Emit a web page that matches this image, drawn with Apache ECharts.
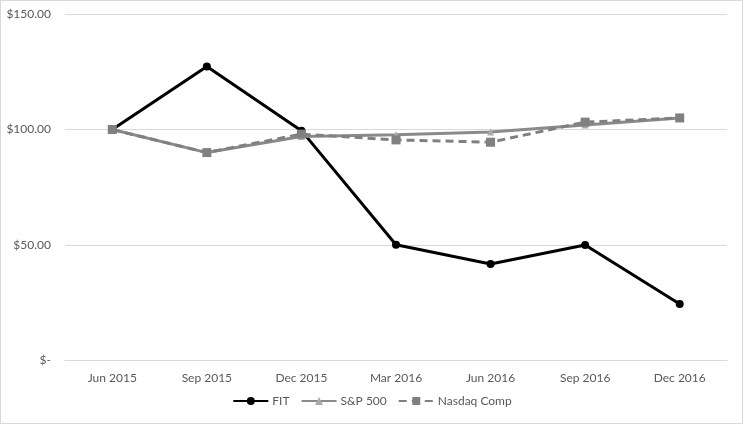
<!DOCTYPE html>
<html>
<head>
<meta charset="utf-8">
<script src="https://cdn.jsdelivr.net/npm/echarts@6/dist/echarts.min.js"></script>
<style>
html,body{margin:0;padding:0;background:#fff;}
#c{position:absolute;left:0;top:0;width:744px;height:428px;}
#frame{position:absolute;left:0;top:0;width:743px;height:424px;box-sizing:border-box;border:1px solid #d9d9d9;pointer-events:none;}
</style>
</head>
<body>
<div id="c"></div>
<div id="frame"></div>
<script>
const categories = ['Jun 2015','Sep 2015','Dec 2015','Mar 2016','Jun 2016','Sep 2016','Dec 2016'];
const fitValues = [100, 127.3, 99.5, 50.1, 41.8, 50.0, 24.5];
const spValues = [100, 90.0, 97.0, 97.7, 98.9, 102.0, 105.0];
const nasdaqValues = [100, 90.0, 98.0, 95.5, 94.5, 103.2, 105.0];
const yTicks = [0, 50, 100, 150];

const chart = echarts.init(document.getElementById('c'), null, {renderer:'canvas'});
const font = 'Lato';
chart.setOption({
  animation:false,
  textStyle:{fontFamily:font},
  grid:{left:65, right:17, top:14, bottom:67.5},
  xAxis:{
    type:'category', data:categories, boundaryGap:true,
    axisLine:{lineStyle:{color:'#d9d9d9', width:1}},
    axisTick:{show:false},
    axisLabel:{color:'#595959', fontSize:12, fontFamily:font, margin:12}
  },
  yAxis:{
    type:'value', min:0, max:150, interval:50,
    axisLine:{show:false}, axisTick:{show:false},
    splitLine:{lineStyle:{color:'#d9d9d9', width:1}},
    axisLabel:{color:'#595959', fontSize:12, fontFamily:font, margin:14,
      formatter:function(v){ return v===0 ? '$-' : '$' + v.toFixed(2); }}
  },
  legend:{
    bottom:16, left:'center', itemWidth:35, itemHeight:10, itemGap:11,
    textStyle:{color:'#595959', fontSize:12, fontFamily:font, padding:[0,0,0,-1]},
    data:['FIT','S&P 500','Nasdaq Comp']
  },
  series:[
    {name:'FIT', type:'line', data:fitValues, symbol:'circle', symbolSize:8,
     lineStyle:{color:'#000', width:3}, itemStyle:{color:'#000'}},
    {name:'S&P 500', type:'line', data:spValues, symbol:'triangle', symbolSize:7,
     lineStyle:{color:'#8a8a8a', width:3}, itemStyle:{color:'#a5abb3'}},
    {name:'Nasdaq Comp', type:'line', data:nasdaqValues, symbol:'rect', symbolSize:9,
     lineStyle:{color:'#808080', width:3, type:[8,5]}, itemStyle:{color:'#808080'}}
  ]
});
</script>
</body>
</html>
